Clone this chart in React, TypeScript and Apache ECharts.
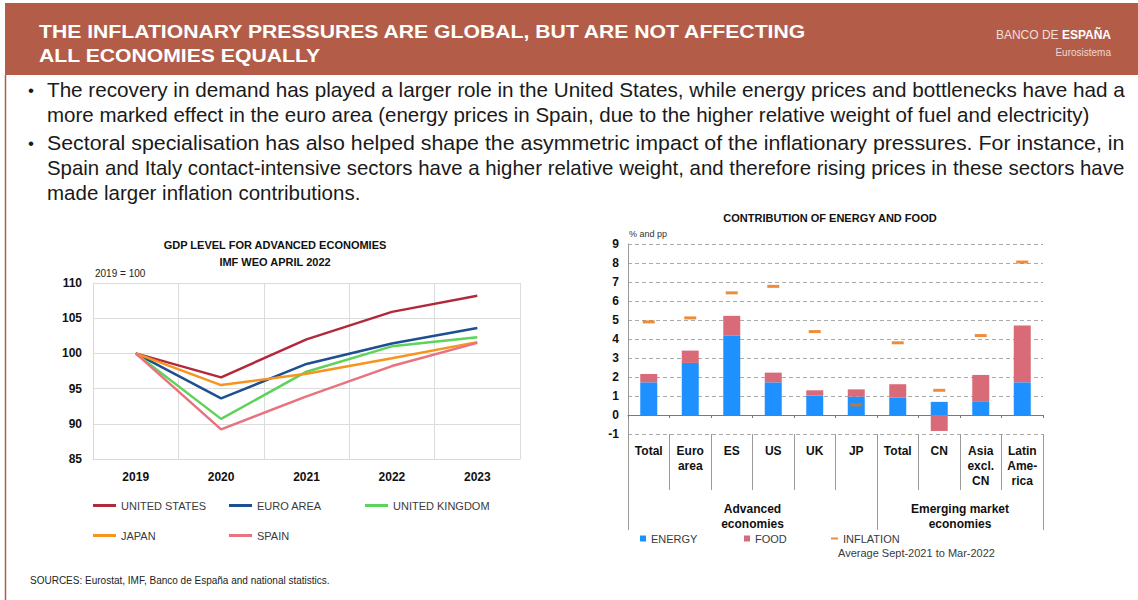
import React, { useEffect, useRef } from 'react';
import * as echarts from 'echarts';

const FONT = "'Liberation Sans', Arial, Helvetica, sans-serif";

// ---- Left chart data (GDP level, 2019 = 100) ----
const years = ['2019', '2020', '2021', '2022', '2023'];
const gdpUS = [100, 96.6, 102.0, 105.9, 108.2];
const gdpEA = [100, 93.6, 98.5, 101.4, 103.6];
const gdpUK = [100, 90.7, 97.4, 101.0, 102.3];
const gdpJP = [100, 95.5, 97.1, 99.3, 101.6];
const gdpES = [100, 89.2, 93.9, 98.2, 101.5];
const gdpNames = ['UNITED STATES', 'EURO AREA', 'UNITED KINGDOM', 'JAPAN', 'SPAIN'];
const gdpColors = ['#B02A3C', '#1D4F91', '#5DD35A', '#F7941D', '#E8737F'];

// ---- Right chart data (contribution of energy and food) ----
const cats = ['Total', 'Euro\narea', 'ES', 'US', 'UK', 'JP', 'Total', 'CN', 'Asia\nexcl.\nCN', 'Latin\nAme-\nrica'];
const energy = [1.72, 2.74, 4.17, 1.72, 1.02, 0.97, 0.91, 0.69, 0.69, 1.72];
const food = [0.44, 0.65, 1.05, 0.51, 0.28, 0.38, 0.71, -0.84, 1.42, 2.99];
const inflation = [4.9, 5.11, 6.43, 6.77, 4.39, 0.53, 3.8, 1.3, 4.18, 8.05];
const groupNames = ['Advanced\neconomies', 'Emerging market\neconomies'];
const groupStarts = [0, 6];
const groupSizes = [6, 4];

// ---- Texts ----
const titleLines = ['THE INFLATIONARY PRESSURES ARE GLOBAL, BUT ARE NOT AFFECTING', 'ALL ECONOMIES EQUALLY'];
const para1 = [
  'The recovery in demand has played a larger role in the United States, while energy prices and bottlenecks have had a',
  'more marked effect in the euro area (energy prices in Spain, due to the higher relative weight of fuel and electricity)',
];
const para2 = [
  'Sectoral specialisation has also helped shape the asymmetric impact of the inflationary pressures. For instance, in',
  'Spain and Italy contact-intensive sectors have a higher relative weight, and therefore rising prices in these sectors have',
  'made larger inflation contributions.',
];

function measure(text: string, font: string): number {
  const c = document.createElement('canvas').getContext('2d');
  if (!c) return text.length * 8;
  c.font = font;
  return c.measureText(text).width;
}

function txt(x: number, y: number, text: string, o: any = {}) {
  return {
    type: 'text',
    x,
    y,
    scaleX: o.scaleX ?? 1,
    style: {
      text,
      fill: o.fill ?? '#111',
      fontSize: o.fontSize ?? 12,
      fontWeight: o.fontWeight ?? 'normal',
      fontFamily: FONT,
      align: o.align ?? 'left',
      textAlign: o.align ?? 'left',
      verticalAlign: 'middle',
      textVerticalAlign: 'middle',
      lineHeight: o.lineHeight,
      rich: o.rich,
    },
  };
}

export default function App() {
  const ref = useRef<HTMLDivElement>(null);

  useEffect(() => {
    if (!ref.current) return;
    const chart = echarts.init(ref.current, null, { renderer: 'svg' });

    // body text sizing
    const base = measure(para1[1], `100px ${FONT}`);
    const bodyFs = Math.round((1040 / base) * 100 * 10) / 10;
    const bodyFont = `${bodyFs}px ${FONT}`;
    const justW = 1078;
    const bodyLines = [
      { t: para1[0], y: 90, j: true },
      { t: para1[1], y: 114, j: false },
      { t: para2[0], y: 143, j: true },
      { t: para2[1], y: 167, j: true },
      { t: para2[2], y: 192, j: false },
    ];
    const bodyEls = bodyLines.map((l) =>
      txt(47, l.y, l.t, {
        fontSize: bodyFs,
        fill: '#1a1a1a',
        scaleX: l.j ? justW / measure(l.t, bodyFont) : 1,
      })
    );

    const titleW = measure(titleLines[0], `bold 19px ${FONT}`);
    const titleScale = 769 / titleW;

    const groupLabelAt: Record<number, string> = {};
    groupNames.forEach((g, i) => {
      groupLabelAt[groupStarts[i] + groupSizes[i] / 2] = g;
    });

    const gdpData = [gdpUS, gdpEA, gdpUK, gdpJP, gdpES];
    const lineSeries = gdpNames.map((n, i) => ({
      type: 'line',
      name: n,
      xAxisIndex: 0,
      yAxisIndex: 0,
      data: gdpData[i],
      symbol: 'none',
      lineStyle: { width: 2.5, color: gdpColors[i] },
      itemStyle: { color: gdpColors[i] },
      z: 3,
    }));

    const legendTxt = { fontSize: 11, color: '#3a3a3a', fontFamily: FONT };
    const lineLegend = (name: string, left: number, top: number) => ({
      data: [name],
      left,
      top,
      icon: 'rect',
      itemWidth: 23,
      itemHeight: 3,
      selectedMode: false,
      textStyle: legendTxt,
    });

    const axisLabelBold = { color: '#111', fontWeight: 'bold', fontSize: 12, fontFamily: FONT };

    const option: any = {
      animation: false,
      backgroundColor: '#ffffff',
      textStyle: { fontFamily: FONT },
      grid: [
        { left: 93, top: 283, width: 427, height: 176 },
        { left: 628, top: 244, width: 415, height: 190 },
      ],
      xAxis: [
        {
          type: 'category',
          gridIndex: 0,
          position: 'bottom',
          data: years,
          boundaryGap: true,
          axisLine: { show: true, onZero: false, lineStyle: { color: '#d9d9d9' } },
          axisTick: { show: false },
          splitLine: { show: true, interval: 0, lineStyle: { color: '#dcdcdc' } },
          axisLabel: { ...axisLabelBold, margin: 12 },
        },
        {
          type: 'category',
          gridIndex: 1,
          position: 'bottom',
          data: cats,
          axisLine: { show: false, onZero: false },
          axisTick: { show: true, length: 56, interval: 0, lineStyle: { color: '#9a9a9a' } },
          splitLine: { show: false },
          axisLabel: { ...axisLabelBold, interval: 0, lineHeight: 15, margin: 9 },
        },
        {
          type: 'category',
          gridIndex: 1,
          position: 'bottom',
          data: cats,
          axisLine: { show: false, onZero: false },
          axisTick: {
            show: true,
            length: 96,
            interval: (i: number) => groupStarts.includes(i),
            lineStyle: { color: '#9a9a9a' },
          },
          splitLine: { show: false },
          axisLabel: { show: false },
        },
        {
          type: 'value',
          gridIndex: 1,
          position: 'bottom',
          min: 0,
          max: cats.length,
          interval: 1,
          axisLine: { show: false, onZero: false },
          axisTick: { show: false },
          splitLine: { show: false },
          axisLabel: {
            ...axisLabelBold,
            lineHeight: 15,
            margin: 67,
            showMinLabel: true,
            showMaxLabel: true,
            formatter: (v: number) => groupLabelAt[v] ?? '',
          },
        },
        {
          type: 'category',
          gridIndex: 1,
          position: 'bottom',
          data: cats,
          axisLine: { show: true, onZero: true, lineStyle: { color: '#7a7a7a', width: 1 } },
          axisTick: { show: true, length: 3, interval: 0, lineStyle: { color: '#7a7a7a' } },
          splitLine: { show: false },
          axisLabel: { show: false },
        },
      ],
      yAxis: [
        {
          type: 'value',
          gridIndex: 0,
          min: 85,
          max: 110,
          interval: 5,
          axisLine: { show: true, lineStyle: { color: '#d9d9d9' } },
          axisTick: { show: false },
          splitLine: { show: true, lineStyle: { color: '#dcdcdc' } },
          axisLabel: { ...axisLabelBold, margin: 11 },
        },
        {
          type: 'value',
          gridIndex: 1,
          min: -1,
          max: 9,
          interval: 1,
          axisLine: { show: true, lineStyle: { color: '#9a9a9a' } },
          axisTick: { show: false },
          splitLine: { show: true, lineStyle: { color: '#ababab', type: [4, 3] } },
          axisLabel: { ...axisLabelBold, margin: 9 },
        },
      ],
      legend: [
        lineLegend(gdpNames[0], 88, 495),
        lineLegend(gdpNames[1], 224, 495),
        lineLegend(gdpNames[2], 360, 495),
        lineLegend(gdpNames[3], 88, 525),
        lineLegend(gdpNames[4], 224, 525),
        {
          data: ['ENERGY'], left: 635, top: 528, icon: 'rect', itemWidth: 6, itemHeight: 6,
          selectedMode: false, textStyle: legendTxt,
        },
        {
          data: ['FOOD'], left: 739, top: 528, icon: 'rect', itemWidth: 6, itemHeight: 6,
          selectedMode: false, textStyle: legendTxt,
        },
        {
          data: ['INFLATION'], left: 826, top: 528, icon: 'rect', itemWidth: 7, itemHeight: 2,
          selectedMode: false, textStyle: legendTxt,
        },
      ],
      series: [
        ...lineSeries,
        {
          type: 'bar',
          name: 'ENERGY',
          xAxisIndex: 1,
          yAxisIndex: 1,
          stack: 'contrib',
          data: energy,
          barWidth: 17,
          itemStyle: { color: '#1E90FF' },
        },
        {
          type: 'bar',
          name: 'FOOD',
          xAxisIndex: 1,
          yAxisIndex: 1,
          stack: 'contrib',
          data: food,
          barWidth: 17,
          itemStyle: { color: '#D96B78' },
        },
        {
          type: 'scatter',
          name: 'INFLATION',
          xAxisIndex: 1,
          yAxisIndex: 1,
          data: inflation,
          symbol: 'rect',
          symbolSize: [12, 3],
          itemStyle: { color: '#E8700A' },
          z: 5,
        },
      ],
      graphic: [
        { type: 'rect', shape: { x: 5, y: 3, width: 1133, height: 72 }, style: { fill: '#B35D49' }, silent: true },
        { type: 'line', shape: { x1: 5.5, y1: 75, x2: 5.5, y2: 600 }, style: { stroke: '#B35D49', lineWidth: 1.5 }, silent: true },
        txt(39, 31, titleLines[0], { fontSize: 19, fontWeight: 'bold', fill: '#ffffff', scaleX: titleScale }),
        txt(39, 55, titleLines[1], { fontSize: 19, fontWeight: 'bold', fill: '#ffffff', scaleX: titleScale }),
        txt(1111, 35, '{a|BANCO DE }{b|ESPAÑA}', {
          align: 'right',
          fill: '#f2ddd7',
          rich: {
            a: { fontSize: 12, fill: '#f2ddd7', fontFamily: FONT },
            b: { fontSize: 12, fill: '#ffffff', fontWeight: 'bold', fontFamily: FONT },
          },
        }),
        txt(1111, 52, 'Eurosistema', { fontSize: 10, fill: '#f1d6cf', align: 'right' }),
        txt(28, 90, '•', { fontSize: 17, fill: '#1a1a1a' }),
        txt(28, 143, '•', { fontSize: 17, fill: '#1a1a1a' }),
        ...bodyEls,
        txt(275, 245, 'GDP LEVEL FOR ADVANCED ECONOMIES', { fontSize: 11, fontWeight: 'bold', align: 'center' }),
        txt(275, 262, 'IMF WEO APRIL 2022', { fontSize: 11, fontWeight: 'bold', align: 'center' }),
        txt(95, 273, '2019 = 100', { fontSize: 10, fill: '#222' }),
        txt(830, 218, 'CONTRIBUTION OF ENERGY AND FOOD', { fontSize: 11, fontWeight: 'bold', align: 'center' }),
        txt(629, 234, '% and pp', { fontSize: 9, fill: '#333' }),
        txt(838, 553, 'Average Sept-2021 to Mar-2022', { fontSize: 11, fill: '#3a3a3a' }),
        txt(30, 580, 'SOURCES: Eurostat, IMF, Banco de España and national statistics.', { fontSize: 10, fill: '#222' }),
      ],
    };

    chart.setOption(option);
    return () => chart.dispose();
  }, []);

  return (
    <div
      ref={ref}
      style={{ position: 'absolute', left: 0, top: 0, width: 1138, height: 600, background: '#fff' }}
    />
  );
}
